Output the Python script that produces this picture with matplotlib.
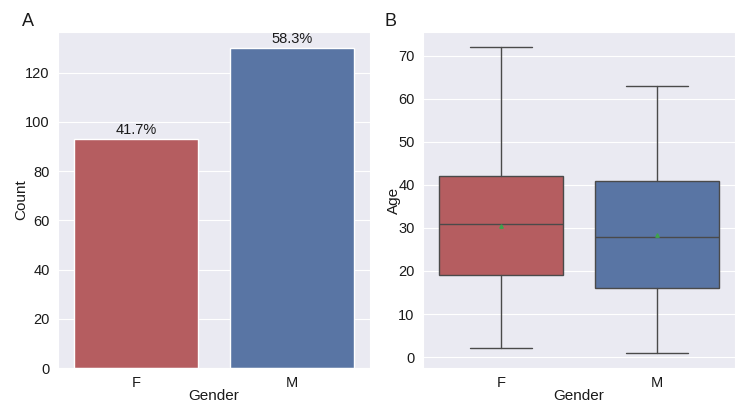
import matplotlib
matplotlib.use("Agg")
import matplotlib.pyplot as plt
import seaborn as sns

sns.set_style("darkgrid")
plt.rcParams["font.family"] = ["Liberation Sans", "DejaVu Sans"]

genders = ["F", "M"]
counts = [93, 130]
colors = ["#b55d60", "#5975a4"]

# age distribution per gender
age_low = [2, 1]
age_q1 = [19, 16]
age_med = [31, 28]
age_q3 = [42, 41]
age_high = [72, 63]
age_mean = [30.4, 28.4]

fig = plt.figure(figsize=(7.5, 4.17), dpi=100)
ax1 = fig.add_axes([58 / 750, 49 / 417, 312 / 750, 336 / 417])
ax2 = fig.add_axes([423 / 750, 49 / 417, 312 / 750, 336 / 417])

# panel A: counts
x = range(len(genders))
bars = ax1.bar(x, counts, width=0.8, color=colors, edgecolor="white", linewidth=1)
total = sum(counts)
for b, c in zip(bars, counts):
    ax1.text(b.get_x() + b.get_width() / 2, c + 0.8, f"{100 * c / total:.1f}%",
             ha="center", va="bottom", fontsize=10.5, color="#1a1a1a")
ax1.set_xlim(-0.5, 1.5)
ax1.set_ylim(0, max(counts) * 1.05)
ax1.set_xticks(list(x))
ax1.set_xticklabels(genders)

# panel B: age box plot
stats = []
for i, g in enumerate(genders):
    stats.append({"label": g, "whislo": age_low[i], "q1": age_q1[i], "med": age_med[i],
                  "q3": age_q3[i], "whishi": age_high[i], "mean": age_mean[i],
                  "fliers": []})
line_col = "#4a4a4a"
lw = 1.0
bp = ax2.bxp(stats, positions=list(x), widths=0.8, patch_artist=True, showmeans=True,
             boxprops=dict(edgecolor=line_col, linewidth=lw),
             whiskerprops=dict(color=line_col, linewidth=lw),
             capprops=dict(color=line_col, linewidth=lw),
             medianprops=dict(color=line_col, linewidth=lw),
             meanprops=dict(marker="^", markerfacecolor="#3fa34d",
                            markeredgecolor="#3fa34d", markersize=2.5))
for patch, col in zip(bp["boxes"], colors):
    patch.set_facecolor(col)
ax2.set_xlim(-0.5, 1.5)
lo, hi = min(age_low), max(age_high)
pad = (hi - lo) * 0.05
ax2.set_ylim(lo - pad, hi + pad)
ax2.set_xticks(list(x))
ax2.set_xticklabels(genders)

for ax, ylab in [(ax1, "Count"), (ax2, "Age")]:
    ax.grid(False, axis="x")
    ax.set_xlabel("Gender", fontsize=11, labelpad=-1, color="#1a1a1a")
    ax.set_ylabel(ylab, fontsize=11, labelpad=-2, color="#1a1a1a")
    ax.tick_params(labelsize=10.5, pad=2.5, labelcolor="#1a1a1a")

fig.text(22 / 750, 1 - 22 / 417, "A", fontsize=13, va="center", ha="left", color="#1a1a1a")
fig.text(385 / 750, 1 - 22 / 417, "B", fontsize=13, va="center", ha="left", color="#1a1a1a")

fig.savefig("out.png", dpi=100)
